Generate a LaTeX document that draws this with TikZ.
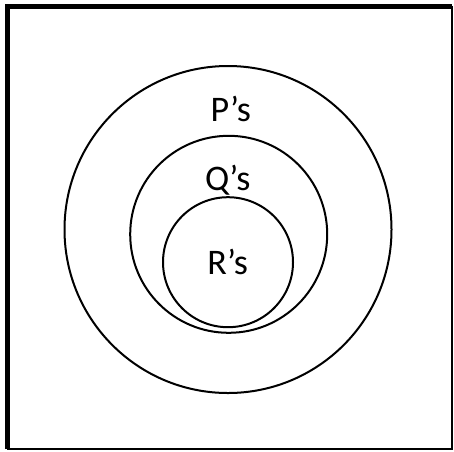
\documentclass[tikz,border=0pt]{standalone}
\usepackage{fontspec}
\setmainfont{Carlito}
\usepackage{tikz}
\usetikzlibrary{positioning}
\tikzset{
  every node/.style={font=\fontsize{36}{40}\selectfont,text=black},
  setcircle/.style={draw=black,circle,line width=2pt,inner sep=0pt,outer sep=0pt},
  setlabel/.style={anchor=base,inner sep=0pt},
  frame/.style={draw=black,line width=2pt},
  framethick/.style={draw=black,line width=5pt},
}

\begin{document}
\begin{tikzpicture}[x=1pt,y=-1pt]
\useasboundingbox (0,0) rectangle (454,451);

% outer frame
\draw[frame] (7.5,6.5) rectangle (452,449);
\draw[framethick] (7.5,449) -- (7.5,6.5) -- (452,6.5);

% nested sets
\node[setcircle,minimum size=327pt] (P) at (228,229.5) {};
\node[setcircle,minimum size=197pt] (Q) at (228.7,234.3) {};
\node[setcircle,minimum size=130pt] (R) at (228,262.2) {};

\node[setlabel] (Plabel) at (230.8,121) {P’s};
\node[setlabel] (Qlabel) at (227.7,190) {Q’s};
\node[setlabel] (Rlabel) at (227.7,274.3) {R’s};

\end{tikzpicture}
\end{document}
